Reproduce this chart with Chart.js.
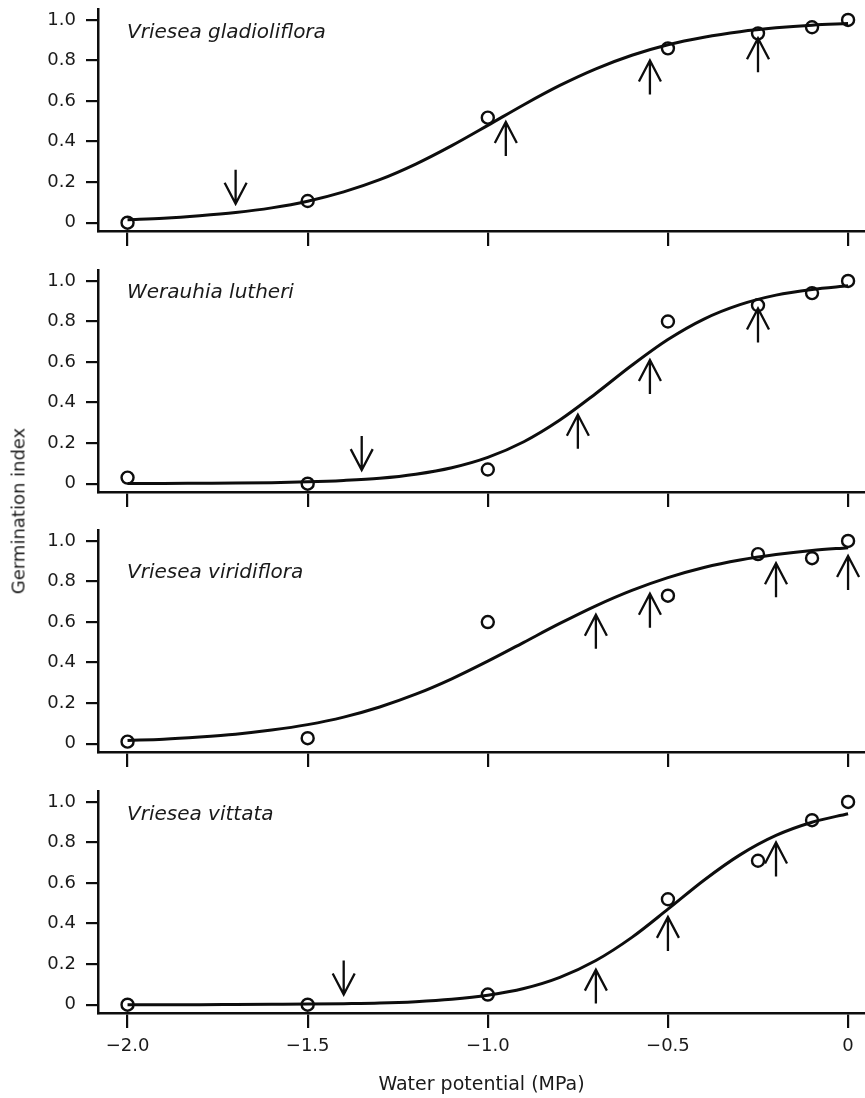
<!DOCTYPE html>
<html><head><meta charset="utf-8">
<script src="https://cdn.jsdelivr.net/npm/chart.js@4.4.1/dist/chart.umd.min.js"></script>
<style>
html,body{margin:0;padding:0;background:#fff;}
#wrap{position:relative;width:865px;height:1098px;overflow:hidden;background:#fff;}
canvas{position:absolute;left:0;}
#ytitle{position:absolute;left:18px;top:511px;transform:translate(-50%,-50%) rotate(-90deg);font:18px "DejaVu Sans";color:#1a1a1a;white-space:nowrap;}
</style></head><body>
<div id="wrap">
<canvas id="c0" width="865" height="261" style="top:0px"></canvas>
<canvas id="c1" width="865" height="261" style="top:261px"></canvas>
<canvas id="c2" width="865" height="261" style="top:521px"></canvas>
<canvas id="c3" width="865" height="316" style="top:782px"></canvas>
<div id="ytitle">Germination index</div>
</div>
<script>
// ---- data ----
const xTickValues = [-2, -1.5, -1, -0.5, 0];
const xTickLabels = ['\u22122.0', '\u22121.5', '\u22121.0', '\u22120.5', '0'];
const yTickValues = [0, 0.2, 0.4, 0.6, 0.8, 1.0];
const yTickLabels = ['0', '0.2', '0.4', '0.6', '0.8', '1.0'];
const xTitle = 'Water potential (MPa)';
const yTitle = 'Germination index';
const speciesNames = ['Vriesea gladioliflora', 'Werauhia lutheri', 'Vriesea viridiflora', 'Vriesea vittata'];

const obsX = [-2, -1.5, -1, -0.5, -0.25, -0.1, 0];
const obsGladioliflora = [0.0, 0.107, 0.518, 0.86, 0.934, 0.964, 1.0];
const obsLutheri       = [0.03, 0.0, 0.07, 0.80, 0.88, 0.94, 1.0];
const obsViridiflora   = [0.01, 0.027, 0.60, 0.73, 0.935, 0.915, 1.0];
const obsVittata       = [0.0, 0.0, 0.05, 0.52, 0.71, 0.91, 1.0];

const curveX = [-2.0,-1.9,-1.8,-1.7,-1.6,-1.5,-1.4,-1.3,-1.2,-1.1,-1.0,-0.9,-0.8,-0.7,-0.6,-0.5,-0.4,-0.3,-0.2,-0.1,0];
const curveGladioliflora = [0.015,0.022,0.034,0.050,0.073,0.106,0.152,0.212,0.289,0.380,0.480,0.582,0.677,0.759,0.826,0.878,0.915,0.942,0.961,0.974,0.982];
const curveLutheri       = [0.001,0.001,0.002,0.003,0.005,0.009,0.016,0.027,0.047,0.079,0.130,0.207,0.314,0.445,0.584,0.711,0.812,0.883,0.930,0.958,0.976];
const curveViridiflora   = [0.016,0.022,0.033,0.047,0.067,0.094,0.131,0.181,0.244,0.320,0.407,0.500,0.593,0.680,0.756,0.819,0.869,0.906,0.933,0.953,0.967];
const curveVittata       = [0.000,0.000,0.000,0.001,0.002,0.003,0.005,0.008,0.015,0.027,0.047,0.080,0.135,0.218,0.332,0.471,0.614,0.739,0.835,0.900,0.942];

const arrowXGladioliflora   = [-1.7, -0.95, -0.55, -0.25];
const arrowTipGladioliflora = [0.093, 0.497, 0.80, 0.91];
const arrowDirGladioliflora = ['down', 'up', 'up', 'up'];
const arrowXLutheri   = [-1.35, -0.75, -0.55, -0.25];
const arrowTipLutheri = [0.067, 0.34, 0.61, 0.864];
const arrowDirLutheri = ['down', 'up', 'up', 'up'];
const arrowXViridiflora   = [-0.7, -0.55, -0.2, 0];
const arrowTipViridiflora = [0.636, 0.74, 0.89, 0.926];
const arrowDirViridiflora = ['up', 'up', 'up', 'up'];
const arrowXVittata   = [-1.4, -0.7, -0.5, -0.2];
const arrowTipVittata = [0.05, 0.173, 0.433, 0.80];
const arrowDirVittata = ['down', 'up', 'up', 'up'];

// ---- assembly ----
const panels = [
  {name: speciesNames[0], obs: obsGladioliflora, curve: curveGladioliflora, ax: arrowXGladioliflora, at: arrowTipGladioliflora, ad: arrowDirGladioliflora},
  {name: speciesNames[1], obs: obsLutheri, curve: curveLutheri, ax: arrowXLutheri, at: arrowTipLutheri, ad: arrowDirLutheri},
  {name: speciesNames[2], obs: obsViridiflora, curve: curveViridiflora, ax: arrowXViridiflora, at: arrowTipViridiflora, ad: arrowDirViridiflora},
  {name: speciesNames[3], obs: obsVittata, curve: curveVittata, ax: arrowXVittata, at: arrowTipVittata, ad: arrowDirVittata}
];
// styling / layout (not data)
const labelY = [33, 32, 52, 33];
const INK = '#0d0d0d';
const TXT = '#1a1a1a';
const FONT = 'DejaVu Sans';
document.getElementById('ytitle').textContent = yTitle;

const panelPlugin = {
  id: 'panelDeco',
  afterDatasetsDraw(chart, args, opts) {
    const ctx = chart.ctx, xs = chart.scales.x, ys = chart.scales.y;
    ctx.save();
    ctx.strokeStyle = INK; ctx.lineWidth = 2.3; ctx.lineCap = 'butt'; ctx.lineJoin = 'miter';
    opts.ax.forEach((xv, k) => {
      const px = xs.getPixelForValue(xv), py = ys.getPixelForValue(opts.at[k]);
      const s = opts.ad[k] === 'up' ? 1 : -1;
      ctx.beginPath();
      ctx.moveTo(px, py); ctx.lineTo(px, py + s * 34);
      ctx.moveTo(px - 11, py + s * 21); ctx.lineTo(px, py); ctx.lineTo(px + 11, py + s * 21);
      ctx.stroke();
    });
    ctx.fillStyle = TXT;
    ctx.font = 'italic 20px "' + FONT + '"';
    ctx.textBaseline = 'middle'; ctx.textAlign = 'left';
    ctx.fillText(opts.name, 127, opts.labelY);
    ctx.restore();
  }
};

panels.forEach((p, i) => {
  const isBottom = i === panels.length - 1;
  new Chart(document.getElementById('c' + i), {
    type: 'scatter',
    data: {
      datasets: [
        {type: 'line', data: curveX.map((x, k) => ({x: x, y: p.curve[k]})), borderColor: INK, borderWidth: 3, pointRadius: 0,
         cubicInterpolationMode: 'monotone', fill: false, clip: false, order: 2},
        {type: 'scatter', data: obsX.map((x, k) => ({x: x, y: p.obs[k]})), pointStyle: 'circle', pointRadius: 6,
         borderColor: INK, borderWidth: 2.4, backgroundColor: 'rgba(0,0,0,0)', clip: false, order: 1}
      ]
    },
    options: {
      responsive: false, animation: false, devicePixelRatio: 1, events: [],
      layout: {autoPadding: false, padding: {top: 9, left: 0, right: 0, bottom: 0}},
      plugins: {
        legend: {display: false}, tooltip: {enabled: false},
        panelDeco: {name: p.name, ax: p.ax, at: p.at, ad: p.ad, labelY: labelY[i]}
      },
      scales: {
        x: {
          type: 'linear', min: -2.082, max: 0.047,
          afterBuildTicks: s => { s.ticks = xTickValues.map(v => ({value: v})); },
          afterFit: s => { s.height = isBottom ? 85 : 30; s.paddingLeft = 0; s.paddingRight = 0; },
          grid: {display: true, drawOnChartArea: false, drawTicks: true, tickLength: 15, color: INK, lineWidth: 2.2},
          border: {display: true, color: INK, width: 2.5},
          ticks: {display: isBottom, padding: 8, color: TXT, font: {family: FONT, size: 18}, maxRotation: 0, autoSkip: false,
                  callback: v => { const k = xTickValues.indexOf(v); return k >= 0 ? xTickLabels[k] : ''; }},
          title: {display: isBottom, text: xTitle, color: TXT, font: {family: FONT, size: 19}, padding: {top: 0, bottom: 2}}
        },
        y: {
          type: 'linear', min: -0.041, max: 1.054,
          afterBuildTicks: s => { s.ticks = yTickValues.map(v => ({value: v})); },
          afterFit: s => { s.width = 98; s.paddingTop = 0; s.paddingBottom = 0; },
          grid: {display: true, drawOnChartArea: false, drawTicks: true, tickLength: 12, color: INK, lineWidth: 2.2},
          border: {display: true, color: INK, width: 2.5},
          ticks: {padding: 10, color: TXT, font: {family: FONT, size: 18}, autoSkip: false,
                  callback: v => { const k = yTickValues.indexOf(v); return k >= 0 ? yTickLabels[k] : ''; }}
        }
      }
    },
    plugins: [panelPlugin]
  });
});
</script>
</body></html>
